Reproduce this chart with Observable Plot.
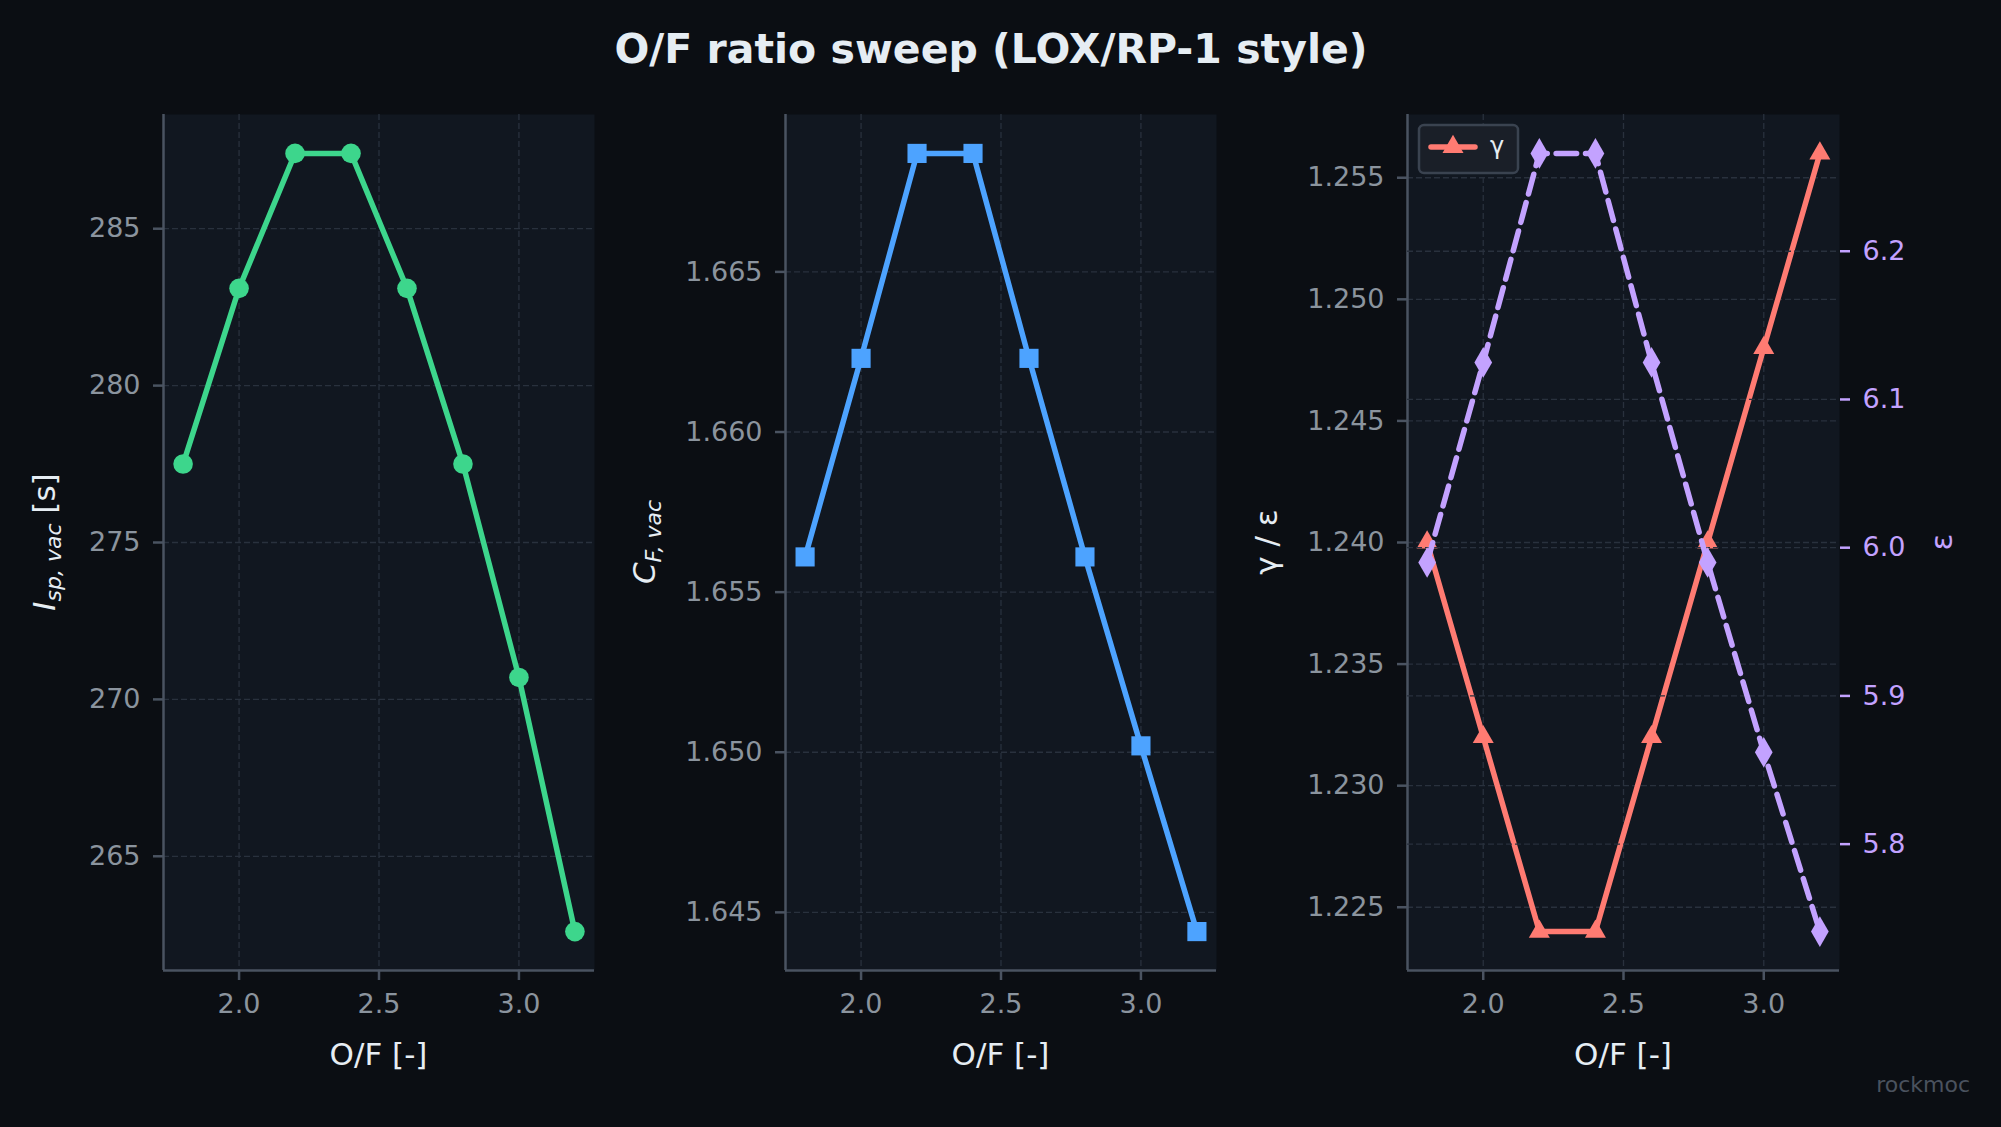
<!DOCTYPE html>
<html>
<head>
<meta charset="utf-8">
<script src="https://cdn.jsdelivr.net/npm/d3@7"></script>
<script src="https://cdn.jsdelivr.net/npm/@observablehq/plot@0.6"></script>
<style>
  html, body { margin: 0; padding: 0; background: #0b0e13; }
  #fig { position: relative; width: 2001px; height: 1127px; overflow: hidden; background: #0b0e13; font-family: "DejaVu Sans", sans-serif; }
  #fig svg { position: absolute; top: 0; }
</style>
</head>
<body>
<div id="fig"></div>
<script>
// ---- data ----
const ofRatio = [1.8, 2.0, 2.2, 2.4, 2.6, 2.8, 3.0, 3.2];
const ispVac = [277.5, 283.1, 287.4, 287.4, 283.1, 277.5, 270.7, 262.6];
const cfVac = [1.6561, 1.6623, 1.6687, 1.6687, 1.6623, 1.6561, 1.6502, 1.6444];
const gammaVals = [1.240, 1.232, 1.224, 1.224, 1.232, 1.240, 1.248, 1.256];
const epsVals = [5.990, 6.125, 6.266, 6.266, 6.125, 5.990, 5.862, 5.741];

const xTicks = [2.0, 2.5, 3.0];
const ispTicks = [265, 270, 275, 280, 285];
const cfTicks = [1.645, 1.650, 1.655, 1.660, 1.665];
const gammaTicks = [1.225, 1.230, 1.235, 1.240, 1.245, 1.250, 1.255];
const epsTicks = [5.8, 5.9, 6.0, 6.1, 6.2];

const titleText = "O/F ratio sweep (LOX/RP-1 style)";
const xLabelText = "O/F [-]";
const legendLabel = "γ";
const footerText = "rockmoc";

// ---- style ----
const AX_BG = "#111720";
const GRID = "#29313d";
const SPINE = "#4a5361";
const TICK_TXT = "#8b949e";
const LABEL = "#e6edf3";
const GREEN = "#3dd68c";
const BLUE = "#4da3ff";
const RED = "#ff7b72";
const PURPLE = "#c3a2ff";

const W = 2001, H = 1127, TOP = 114, BOTTOM = 970;
const LW = 5.5;
const fig = document.getElementById("fig");

function pad(arr) {
  const [a, b] = d3.extent(arr);
  const m = (b - a) * 0.05;
  return [a - m, b + m];
}
const xDom = pad(ofRatio);

function makePanel(o) {
  const yDom = pad(o.yVals);
  const rows = ofRatio.map((x, i) => ({x, y: o.yVals[i]}));
  const marks = [];
  if (o.bg) marks.push(Plot.frame({fill: AX_BG, stroke: "none"}));
  if (o.gridX) marks.push(Plot.gridX(xTicks, {stroke: GRID, strokeOpacity: 1, strokeWidth: 1.3, strokeDasharray: "6,3"}));
  marks.push(Plot.gridY(o.yTicks, {stroke: GRID, strokeOpacity: 1, strokeWidth: 1.3, strokeDasharray: "6,3"}));
  if (o.axisX) {
    marks.push(Plot.axisX(xTicks, {
      tickSize: 10, tickPadding: 13, stroke: SPINE, strokeWidth: 2.5,
      fill: TICK_TXT, fontSize: 27, textStroke: "none",
      tickFormat: d3.format(".1f"), label: null
    }));
  }
  marks.push(Plot.axisY(o.yTicks, {
    anchor: o.anchor, tickSize: 10, tickPadding: 13,
    stroke: o.tickStroke, strokeWidth: 2.5,
    fill: o.tickFill, fontSize: 27, textStroke: "none",
    tickFormat: d3.format(o.fmt), label: null
  }));
  if (o.spines) {
    marks.push(Plot.ruleX([xDom[0]], {stroke: SPINE, strokeWidth: 2.5}));
    marks.push(Plot.ruleY([yDom[0]], {stroke: SPINE, strokeWidth: 2.5}));
  }
  marks.push(Plot.line(rows, {x: "x", y: "y", stroke: o.color, strokeWidth: LW, strokeDasharray: o.dash, strokeLinejoin: "round"}));
  marks.push(Plot.dot(rows, {x: "x", y: "y", fill: o.color, symbol: o.symbol, r: o.r}));
  const svg = Plot.plot({
    width: o.width, height: H,
    marginLeft: o.ml, marginRight: o.mr, marginTop: TOP, marginBottom: H - BOTTOM,
    x: {domain: xDom, axis: o.axisX ? undefined : null},
    y: {domain: yDom},
    style: {background: "transparent", fontFamily: "DejaVu Sans", overflow: "visible", color: LABEL},
    marks
  });
  svg.style.left = o.left + "px";
  fig.appendChild(svg);
}

// Panel 1: Isp
makePanel({left: 0, width: 620, ml: 163, mr: 26, yVals: ispVac, yTicks: ispTicks, fmt: "d",
  color: GREEN, symbol: "circle", r: 9.8, bg: true, gridX: true, axisX: true, spines: true,
  anchor: "left", tickStroke: SPINE, tickFill: TICK_TXT});
// Panel 2: CF
makePanel({left: 620, width: 620, ml: 165, mr: 24, yVals: cfVac, yTicks: cfTicks, fmt: ".3f",
  color: BLUE, symbol: "square", r: 10.8, bg: true, gridX: true, axisX: true, spines: true,
  anchor: "left", tickStroke: SPINE, tickFill: TICK_TXT});
// Panel 3: gamma
makePanel({left: 1240, width: 761, ml: 167, mr: 162, yVals: gammaVals, yTicks: gammaTicks, fmt: ".3f",
  color: RED, symbol: "triangle", r: 7.8, bg: true, gridX: true, axisX: true, spines: true,
  anchor: "left", tickStroke: SPINE, tickFill: TICK_TXT});

// Legend overlay (belongs to gamma axes, drawn below the eps layer)
const over = d3.create("svg").attr("width", W).attr("height", H)
  .style("position", "absolute").style("left", "0px").style("top", "0px")
  .style("pointer-events", "none").style("font-family", "DejaVu Sans");
const lg = over.append("g");
lg.append("rect").attr("x", 1419).attr("y", 125).attr("width", 99).attr("height", 48)
  .attr("rx", 5).attr("fill", "#1a1f28").attr("stroke", "#3a4350").attr("stroke-width", 2.5);
lg.append("line").attr("x1", 1431).attr("x2", 1475).attr("y1", 147).attr("y2", 147)
  .attr("stroke", RED).attr("stroke-width", LW).attr("stroke-linecap", "round");
lg.append("path").attr("transform", "translate(1453,147)")
  .attr("d", d3.symbol(d3.symbolTriangle, Math.PI * 7.8 * 7.8)()).attr("fill", RED);
lg.append("text").attr("x", 1490).attr("y", 154).attr("font-size", 24).attr("fill", LABEL).text(legendLabel);
fig.appendChild(over.node());

// Panel 3 twin: epsilon
makePanel({left: 1240, width: 761, ml: 167, mr: 162, yVals: epsVals, yTicks: epsTicks, fmt: ".1f",
  color: PURPLE, symbol: "diamond", r: 9.3, bg: false, gridX: false, axisX: false, spines: false,
  anchor: "right", tickStroke: PURPLE, tickFill: PURPLE, dash: "20.5,8.9"});

// Text overlay
const txt = d3.create("svg").attr("width", W).attr("height", H)
  .style("position", "absolute").style("left", "0px").style("top", "0px")
  .style("pointer-events", "none").style("font-family", "DejaVu Sans");

txt.append("text").attr("x", 991).attr("y", 63).attr("text-anchor", "middle")
  .attr("font-size", 41).attr("font-weight", "bold").attr("fill", LABEL).text(titleText);

[[163, 594], [785, 1216], [1407, 1839]].forEach(([a, b]) => {
  txt.append("text").attr("x", (a + b) / 2).attr("y", 1065).attr("text-anchor", "middle")
    .attr("font-size", 31).attr("fill", LABEL).text(xLabelText);
});

const yc = (TOP + BOTTOM) / 2;
const t1 = txt.append("text").attr("transform", `translate(55,${yc}) rotate(-90)`)
  .attr("text-anchor", "middle").attr("font-size", 31).attr("fill", LABEL);
t1.append("tspan").attr("font-style", "italic").text("I");
t1.append("tspan").attr("font-style", "italic").attr("font-size", 22).attr("dy", 6).text("sp, vac");
t1.append("tspan").attr("dy", -6).text(" [s]");

const t2 = txt.append("text").attr("transform", `translate(655,${yc}) rotate(-90)`)
  .attr("text-anchor", "middle").attr("font-size", 31).attr("fill", LABEL);
t2.append("tspan").attr("font-style", "italic").text("C");
t2.append("tspan").attr("font-style", "italic").attr("font-size", 22).attr("dy", 6).text("F, vac");

txt.append("text").attr("transform", `translate(1277,${yc}) rotate(-90)`)
  .attr("text-anchor", "middle").attr("font-size", 31).attr("fill", LABEL).text("γ / ε");
txt.append("text").attr("transform", `translate(1952,${yc}) rotate(-90)`)
  .attr("text-anchor", "middle").attr("font-size", 31).attr("fill", PURPLE).text("ε");
txt.append("text").attr("x", 1970).attr("y", 1092).attr("text-anchor", "end")
  .attr("font-size", 22).attr("fill", "#4a525e").text(footerText);

fig.appendChild(txt.node());
</script>
</body>
</html>
